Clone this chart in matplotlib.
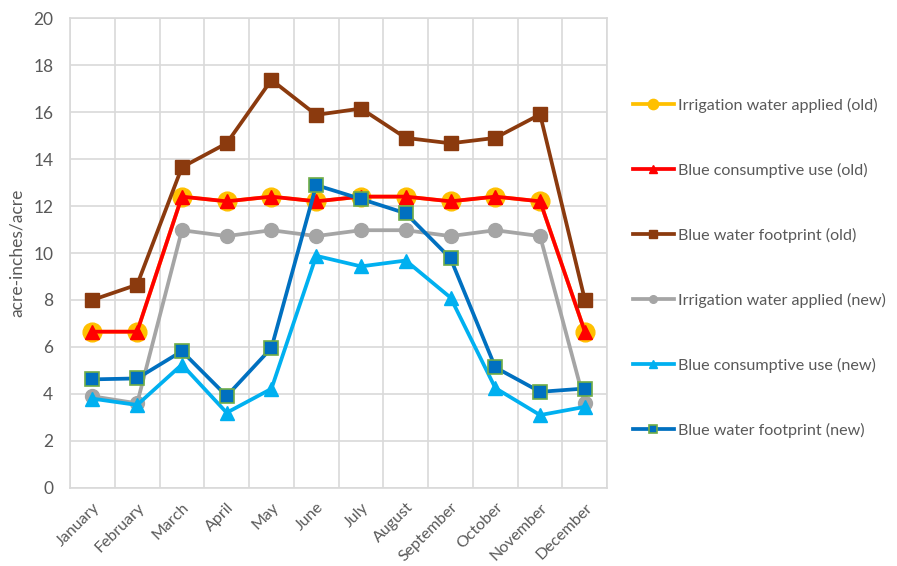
import matplotlib
matplotlib.use("Agg")
import matplotlib.pyplot as plt

months = ["January", "February", "March", "April", "May", "June", "July",
          "August", "September", "October", "November", "December"]

irrigation_old = [6.65, 6.65, 12.4, 12.2, 12.4, 12.2, 12.4, 12.4, 12.2, 12.4, 12.2, 6.65]
consumptive_old = [6.65, 6.65, 12.4, 12.2, 12.4, 12.2, 12.4, 12.4, 12.2, 12.4, 12.2, 6.65]
footprint_old = [8.0, 8.65, 13.65, 14.67, 17.37, 15.88, 16.15, 14.9, 14.67, 14.9, 15.9, 8.0]
irrigation_new = [3.9, 3.6, 10.97, 10.72, 10.97, 10.72, 10.97, 10.97, 10.72, 10.97, 10.72, 3.6]
consumptive_new = [3.8, 3.53, 5.25, 3.2, 4.22, 9.88, 9.43, 9.68, 8.1, 4.25, 3.1, 3.45]
footprint_new = [4.62, 4.66, 5.82, 3.91, 5.96, 12.89, 12.3, 11.69, 9.77, 5.13, 4.09, 4.23]

labels = ["Irrigation water applied (old)", "Blue consumptive use (old)",
          "Blue water footprint (old)", "Irrigation water applied (new)",
          "Blue consumptive use (new)", "Blue water footprint (new)"]

plt.rcParams['font.family'] = ['Lato', 'DejaVu Sans']

fig = plt.figure(figsize=(8.97, 5.66), dpi=100)
ax = fig.add_axes([0.078, 0.138, 0.599, 0.830])

x = list(range(len(months)))
styles = [
    (irrigation_old, dict(color="#FFC000", marker="o", markersize=13.5,
                          markerfacecolor="#FFC000", markeredgecolor="#FFC000")),
    (consumptive_old, dict(color="#FF0000", marker="^", markersize=10,
                           markerfacecolor="#FF0000", markeredgecolor="#FF0000")),
    (footprint_old, dict(color="#8B3A0E", marker="s", markersize=9.5,
                         markerfacecolor="#8B3A0E", markeredgecolor="#8B3A0E")),
    (irrigation_new, dict(color="#A5A5A5", marker="o", markersize=10,
                          markerfacecolor="#A5A5A5", markeredgecolor="#A5A5A5")),
    (consumptive_new, dict(color="#00B0F0", marker="^", markersize=10,
                           markerfacecolor="#00B0F0", markeredgecolor="#00B0F0")),
    (footprint_new, dict(color="#0070C0", marker="s", markersize=9.5,
                         markerfacecolor="#0070C0", markeredgecolor="#70AD47",
                         markeredgewidth=1.2)),
]

handles = []
for (vals, kw), lab in zip(styles, labels):
    h, = ax.plot(x, vals, linewidth=2.7, label=lab, zorder=3, **kw)
    handles.append(h)

ax.set_xlim(-0.5, 11.5)
ax.set_ylim(0, 20)
ax.set_yticks(range(0, 21, 2))
ax.set_xticks([i - 0.5 for i in range(13)], minor=False)
ax.set_xticklabels([])
ax.set_xticks(x, minor=True)
ax.set_xticklabels(months, minor=True, rotation=45, ha="right",
                   rotation_mode="anchor", fontsize=11.5, color="#595959")
ax.tick_params(axis="x", which="both", length=0, pad=9)
ax.tick_params(axis="y", length=0, labelsize=12.5, colors="#595959", pad=12)
ax.grid(True, which="major", color="#D9D9D9", linewidth=1.2, zorder=0)
for s in ax.spines.values():
    s.set_color("#D9D9D9")
    s.set_linewidth(1.2)
ax.set_ylabel("acre-inches/acre", fontsize=12.5, color="#595959", labelpad=6)

fig.legend(handles=handles, labels=labels, loc="upper left",
           bbox_to_anchor=(0.689, 0.853), frameon=False, fontsize=11.6,
           labelspacing=3.1, handlelength=2.6, handletextpad=0.2,
           markerscale=0.55, labelcolor="#595959")

fig.savefig("out.png", dpi=100)
